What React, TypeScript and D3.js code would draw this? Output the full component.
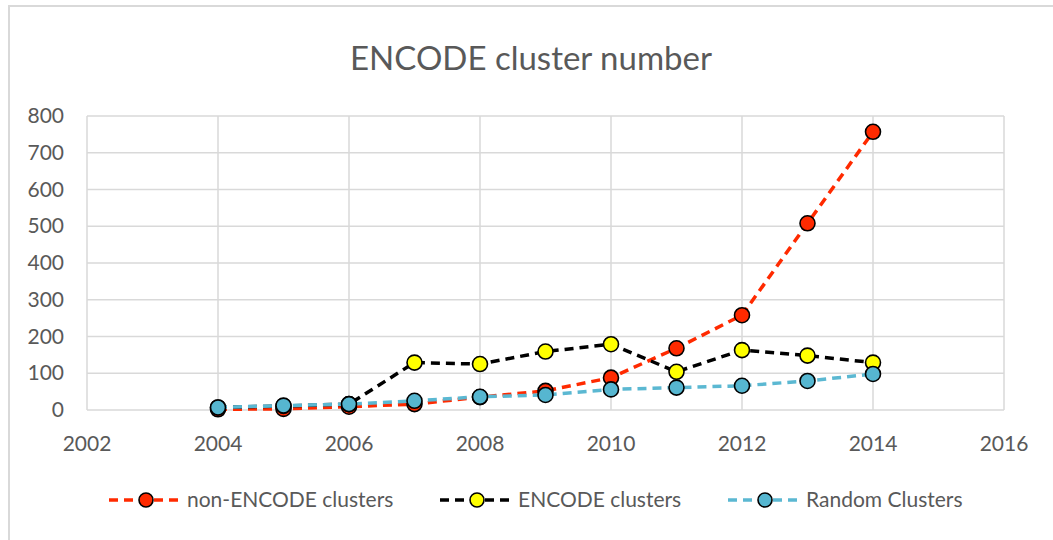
import { useEffect, useRef } from 'react';
import * as d3 from 'd3';

const years = [2004, 2005, 2006, 2007, 2008, 2009, 2010, 2011, 2012, 2013, 2014];
const nonEncode = [2, 3, 9, 16, 35, 52, 88, 168, 258, 508, 757];
const encode = [7, 11, 16, 129, 125, 159, 179, 104, 163, 148, 129];
const random = [7, 12, 16, 25, 36, 41, 56, 61, 66, 79, 98];
const xTicks = [2002, 2004, 2006, 2008, 2010, 2012, 2014, 2016];
const yTicks = [0, 100, 200, 300, 400, 500, 600, 700, 800];

const seriesList = [
  { name: 'non-ENCODE clusters', values: nonEncode, line: '#ff2a00', fill: '#ff2a00' },
  { name: 'ENCODE clusters', values: encode, line: '#000000', fill: '#ffff00' },
  { name: 'Random Clusters', values: random, line: '#5bb8d2', fill: '#56b6d0' },
];

const FONT = 'Lato, "Open Sans", sans-serif';
const TEXT = '#595959';

export default function App() {
  const svgRef = useRef<SVGSVGElement>(null);

  useEffect(() => {
    if (!svgRef.current) return;
    const width = 1053;
    const height = 540;
    const svg = d3.select(svgRef.current);
    svg.selectAll('*').remove();

    const margin = { top: 116, right: 49, bottom: 130, left: 87 };

    // chart frame
    svg.append('rect')
      .attr('x', 9).attr('y', 6)
      .attr('width', width + 20).attr('height', height + 20)
      .attr('fill', 'white')
      .attr('stroke', '#d9d9d9')
      .attr('stroke-width', 2);

    const x = d3.scaleLinear().domain([2002, 2016]).range([margin.left, width - margin.right]);
    const y = d3.scaleLinear().domain([0, 800]).range([410, margin.top]);

    // grid
    svg.append('g')
      .selectAll('line')
      .data(yTicks)
      .join('line')
      .attr('x1', x(2002)).attr('x2', x(2016))
      .attr('y1', (d) => y(d)).attr('y2', (d) => y(d))
      .attr('stroke', '#d9d9d9').attr('stroke-width', 1.5);

    svg.append('g')
      .selectAll('line')
      .data(xTicks)
      .join('line')
      .attr('x1', (d) => x(d)).attr('x2', (d) => x(d))
      .attr('y1', y(0)).attr('y2', y(800))
      .attr('stroke', '#d9d9d9').attr('stroke-width', 1.5);

    // axis labels
    svg.append('g')
      .selectAll('text')
      .data(yTicks)
      .join('text')
      .attr('x', 64)
      .attr('y', (d) => y(d) + 7)
      .attr('text-anchor', 'end')
      .attr('font-family', FONT)
      .attr('font-size', '21px')
      .attr('fill', TEXT)
      .text((d) => d);

    svg.append('g')
      .selectAll('text')
      .data(xTicks)
      .join('text')
      .attr('x', (d) => x(d))
      .attr('y', 451)
      .attr('text-anchor', 'middle')
      .attr('font-family', FONT)
      .attr('font-size', '21px')
      .attr('fill', TEXT)
      .text((d) => d);

    // title
    svg.append('text')
      .attr('x', 531)
      .attr('y', 70)
      .attr('text-anchor', 'middle')
      .attr('font-family', FONT)
      .attr('font-size', '33px')
      .attr('fill', TEXT)
      .text('ENCODE cluster number');

    const line = d3.line<number>()
      .x((_, i) => x(years[i]))
      .y((d) => y(d));

    seriesList.forEach((s) => {
      svg.append('path')
        .datum(s.values)
        .attr('fill', 'none')
        .attr('stroke', s.line)
        .attr('stroke-width', 3.5)
        .attr('stroke-dasharray', '9,6')
        .attr('d', line);

      svg.append('g')
        .selectAll('circle')
        .data(s.values)
        .join('circle')
        .attr('cx', (_, i) => x(years[i]))
        .attr('cy', (d) => y(d))
        .attr('r', 7.5)
        .attr('fill', s.fill)
        .attr('stroke', '#000')
        .attr('stroke-width', 1.6);
    });

    // legend (anchored at marker centre)
    const legendX = [146, 477, 765];
    seriesList.forEach((s, i) => {
      const lg = svg.append('g').attr('transform', `translate(${legendX[i]},500)`);
      lg.append('line')
        .attr('x1', -37).attr('x2', 35)
        .attr('y1', 0).attr('y2', 0)
        .attr('stroke', s.line)
        .attr('stroke-width', 3.5)
        .attr('stroke-dasharray', '9,6');
      lg.append('circle')
        .attr('cx', 0).attr('cy', 0)
        .attr('r', 7)
        .attr('fill', s.fill)
        .attr('stroke', '#000')
        .attr('stroke-width', 1.6);
      lg.append('text')
        .attr('x', 41)
        .attr('y', 7)
        .attr('font-family', FONT)
        .attr('font-size', '21px')
        .attr('fill', TEXT)
        .text(s.name);
    });
  }, []);

  return (
    <svg
      ref={svgRef}
      width={1053}
      height={540}
      style={{ position: 'absolute', left: 0, top: 0 }}
    />
  );
}
